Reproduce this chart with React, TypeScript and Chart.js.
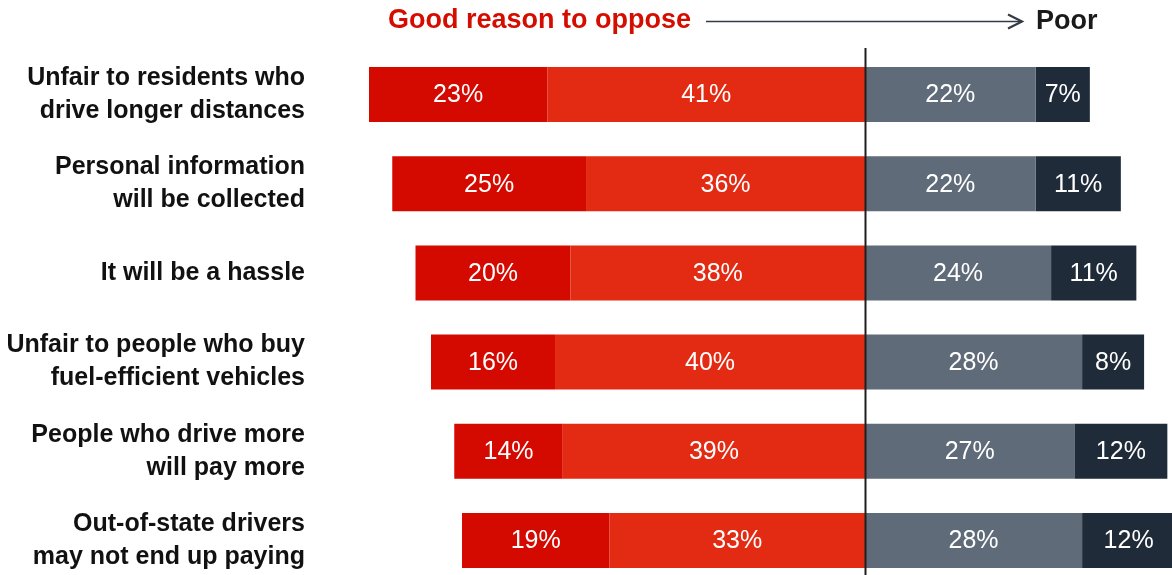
import React, { useEffect, useRef } from "react";
import { Chart, registerables } from "chart.js";

Chart.register(...registerables);

const categories: string[][] = [
  ["Unfair to residents who", "drive longer distances"],
  ["Personal information", "will be collected"],
  ["It will be a hassle"],
  ["Unfair to people who buy", "fuel-efficient vehicles"],
  ["People who drive more", "will pay more"],
  ["Out-of-state drivers", "may not end up paying"],
];

const veryGood = [23, 25, 20, 16, 14, 19];
const somewhatGood = [41, 36, 38, 40, 39, 33];
const somewhatPoor = [22, 22, 24, 28, 27, 28];
const veryPoor = [7, 11, 11, 8, 12, 12];

const headerLeft = "Good reason to oppose";
const headerRight = "Poor";

const FONT = '"Liberation Sans", Arial, Helvetica, sans-serif';

const valueLabels = {
  id: "valueLabels",
  afterDatasetsDraw(chart: any) {
    const ctx = chart.ctx;
    ctx.save();
    ctx.fillStyle = "#ffffff";
    ctx.font = `25px ${FONT}`;
    ctx.textAlign = "center";
    ctx.textBaseline = "middle";
    chart.data.datasets.forEach((ds: any, di: number) => {
      const meta = chart.getDatasetMeta(di);
      meta.data.forEach((bar: any, i: number) => {
        const v = Math.abs(ds.data[i]);
        const cx = (bar.x + bar.base) / 2;
        ctx.fillText(`${v}%`, cx, bar.y + 1);
      });
    });
    ctx.restore();
  },
};

const decorations = {
  id: "decorations",
  afterDraw(chart: any) {
    const ctx = chart.ctx;
    const xs = chart.scales.x;
    const x0 = Math.round(xs.getPixelForValue(0)) + 0.5;
    ctx.save();
    // center divider
    ctx.strokeStyle = "#1e1e1e";
    ctx.lineWidth = 2;
    ctx.beginPath();
    ctx.moveTo(x0, 48);
    ctx.lineTo(x0, chart.height);
    ctx.stroke();
    // header
    ctx.textBaseline = "middle";
    ctx.textAlign = "left";
    ctx.font = `bold 27px ${FONT}`;
    ctx.fillStyle = "#d50d00";
    ctx.fillText(headerLeft, 388, 21);
    // arrow
    ctx.strokeStyle = "#333b44";
    ctx.lineWidth = 1.6;
    ctx.beginPath();
    ctx.moveTo(706, 21.5);
    ctx.lineTo(1022, 21.5);
    ctx.stroke();
    ctx.lineWidth = 2.2;
    ctx.beginPath();
    ctx.moveTo(1008, 14.5);
    ctx.lineTo(1022, 21.5);
    ctx.lineTo(1008, 28.5);
    ctx.stroke();
    ctx.fillStyle = "#1a1a1a";
    ctx.font = `bold 27px ${FONT}`;
    ctx.fillText(headerRight, 1036, 22);
    ctx.restore();
  },
};

export default function App() {
  const ref = useRef<HTMLCanvasElement | null>(null);
  useEffect(() => {
    if (!ref.current) return;
    const chart = new Chart(ref.current, {
      type: "bar",
      data: {
        labels: categories as any,
        datasets: [
          { label: "Somewhat good", data: somewhatGood.map((v) => -v), backgroundColor: "#e32a12" },
          { label: "Very good", data: veryGood.map((v) => -v), backgroundColor: "#d40a00" },
          { label: "Somewhat poor", data: somewhatPoor, backgroundColor: "#5f6b78" },
          { label: "Very poor", data: veryPoor, backgroundColor: "#1f2b38" },
        ],
      },
      options: {
        indexAxis: "y",
        responsive: false,
        animation: false,
        layout: { padding: { top: 50, bottom: 5, left: 0, right: 0 } },
        datasets: { bar: { categoryPercentage: 0.617, barPercentage: 1, borderWidth: 0 } },
        plugins: { legend: { display: false }, tooltip: { enabled: false }, title: { display: false } },
        scales: {
          x: {
            type: "linear",
            stacked: true,
            min: -64,
            max: 39.6,
            display: false,
          },
          y: {
            stacked: true,
            grid: { display: false, drawTicks: false },
            border: { display: false },
            ticks: {
              padding: 64,
              color: "#111111",
              font: { family: FONT, size: 25, weight: "bold", lineHeight: 1.32 },
              crossAlign: "near",
            },
            afterFit(scale: any) {
              scale.width = 369;
              scale.paddingTop = 0;
              scale.paddingBottom = 0;
            },
          },
        },
      } as any,
      plugins: [valueLabels, decorations],
    });
    return () => chart.destroy();
  }, []);
  return (
    <div style={{ position: "fixed", left: 0, top: 0, width: 1172, height: 575, overflow: "hidden", background: "#fff" }}>
      <canvas ref={ref} width={1172} height={590} style={{ display: "block" }} />
    </div>
  );
}
